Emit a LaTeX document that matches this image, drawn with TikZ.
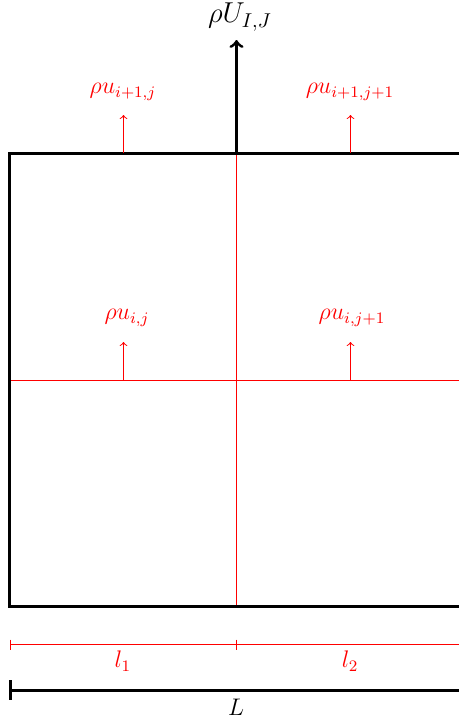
\documentclass[tikz,border=0pt]{standalone}
\usetikzlibrary{positioning}

\begin{document}
\begin{tikzpicture}[
        x=0.5pt, y=-0.5pt,
        wall/.style={line width=1.5pt},
        cellline/.style={draw=red, line width=0.5pt},
        flux/.style={->, red, line width=0.5pt},
        bigflux/.style={->, line width=1.5pt},
        lab/.style={red, font=\large, inner sep=1pt},
        biglab/.style={font=\Large, inner sep=1pt}
    ]
        \useasboundingbox (0,0) rectangle (459,720);

        % Control volume
        \coordinate (tl) at (10,153);
        \coordinate (tr) at (459,153);
        \coordinate (bl) at (10,606);
        \coordinate (br) at (459,606);

        % Sub-cells
        \coordinate (mt) at (236.5,153);
        \coordinate (mb) at (236.5,606);
        \coordinate (ml) at (10,380.5);
        \coordinate (mr) at (459,380.5);
        \draw[cellline] (mt) -- (mb);
        \draw[cellline] (ml) -- (mr);
        \draw[wall] (tr) -- (tl) -- (bl) -- (br);

        % Fluxes of the sub-cells
        \coordinate (f1) at (123.5,153);  \coordinate (f1e) at (123.5,115);
        \coordinate (f2) at (350.5,153);  \coordinate (f2e) at (350.5,115);
        \coordinate (f3) at (123.5,380);  \coordinate (f3e) at (123.5,342);
        \coordinate (f4) at (350.5,380);  \coordinate (f4e) at (350.5,342);
        \draw[flux] (f1) -- (f1e);
        \draw[flux] (f2) -- (f2e);
        \draw[flux] (f3) -- (f3e);
        \draw[flux] (f4) -- (f4e);
        \node[lab] (u1) at (123,92) {$\rho u_{i+1,j}$};
        \node[lab] (u2) at (350,92) {$\rho u_{i+1,j+1}$};
        \node[lab] (u3) at (127,318) {$\rho u_{i,j}$};
        \node[lab] (u4) at (352,318) {$\rho u_{i,j+1}$};

        % Flux of the coarse cell
        \coordinate (fU) at (236.5,153);
        \coordinate (fUe) at (236.5,40);
        \draw[bigflux] (fU) -- (fUe);
        \node[biglab] (U) at (240,17) {$\rho U_{I,J}$};

        % Lengths
        \coordinate (a0) at (10.5,644.5);
        \coordinate (a1) at (236.5,644.5);
        \coordinate (a2) at (459,644.5);
        \draw[cellline] (a0) -- (a2);
        \draw[cellline] (a0) ++(0,-5) -- ++(0,10);
        \draw[cellline] (a1) ++(0,-5) -- ++(0,10);
        \node[lab] (l1) at (123,661) {$l_1$};
        \node[lab] (l2) at (350,661) {$l_2$};

        \coordinate (b0) at (11,690);
        \coordinate (b2) at (459,690);
        \draw[wall] (b0) -- (b2);
        \draw[wall] (b0) ++(0,-10) -- ++(0,20);
        \node[font=\large, inner sep=1pt] (L) at (236,707) {$L$};
    \end{tikzpicture}
\end{document}
